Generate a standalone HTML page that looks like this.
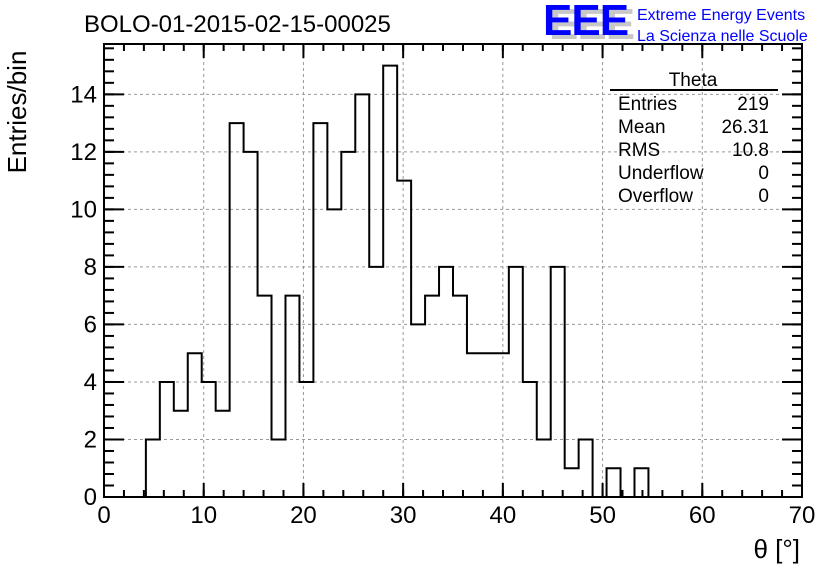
<!DOCTYPE html>
<html><head><meta charset="utf-8"><style>
body{margin:0;background:#fff;}
svg{display:block;font-family:"Liberation Sans",sans-serif;}
</style></head><body>
<svg id="c" width="836" height="572">
<rect width="836" height="572" fill="#fff"/>
<text x="84" y="32" font-size="24">BOLO-01-2015-02-15-00025</text>
<g>
<text x="549" y="39" font-size="44" font-weight="bold" fill="#c8c8c8" letter-spacing="-1">EEE</text>
<text x="543" y="35" font-size="44" font-weight="bold" fill="#0000ff" letter-spacing="-1">EEE</text>
<text x="637" y="20" font-size="16" fill="#0000ff">Extreme Energy Events</text>
<text x="637" y="41" font-size="16" fill="#0000ff">La Scienza nelle Scuole</text>
</g>
<g id="grid"></g><g id="axes"></g><path id="hist" fill="none" stroke="#000" stroke-width="2"/>
<rect x="104" y="44" width="698" height="453" fill="none" stroke="#000" stroke-width="2"/>
<text transform="translate(26,112) rotate(-90)" font-size="26" text-anchor="middle">Entries/bin</text>
<text x="800" y="558" font-size="26" text-anchor="end">θ [°]</text>
<g font-size="19">
<text x="693" y="86" text-anchor="middle">Theta</text>
<line x1="610" y1="90" x2="778" y2="90" stroke="#000" stroke-width="2"/>
<text x="618" y="110">Entries</text><text x="769" y="110" text-anchor="end">219</text>
<text x="618" y="133">Mean</text><text x="769" y="133" text-anchor="end">26.31</text>
<text x="618" y="156">RMS</text><text x="769" y="156" text-anchor="end">10.8</text>
<text x="618" y="179">Underflow</text><text x="769" y="179" text-anchor="end">0</text>
<text x="618" y="202">Overflow</text><text x="769" y="202" text-anchor="end">0</text>
</g>
</svg>
<script>
const binEdges0=0, binWidth=1.4;
const counts=[0,0,0,2,4,3,5,4,3,13,12,7,2,7,4,13,10,12,14,8,15,11,6,7,8,7,5,5,5,8,4,2,8,1,2,0,1,0,1,0,0,0,0,0,0,0,0,0,0,0];
const xTicks=[0,10,20,30,40,50,60,70];
const yTicks=[0,2,4,6,8,10,12,14];
const X0=104,X1=802,Y0=497,Y1=44,xmax=70,ymax=15.75;
const sx=v=>X0+(X1-X0)*v/xmax, sy=v=>Y0-(Y0-Y1)*v/ymax;
const NS="http://www.w3.org/2000/svg";
const grid=document.getElementById('grid'), axes=document.getElementById('axes');
function mk(tag,attrs,parent){const e=document.createElementNS(NS,tag);for(const k in attrs)e.setAttribute(k,attrs[k]);parent.appendChild(e);return e;}
xTicks.forEach(t=>{
 const x=sx(t);
 if(t>0&&t<xmax){const g=mk('line',{x1:x,x2:x,y1:Y1,y2:Y0,stroke:'#999','stroke-dasharray':'3,3'},grid);
 
 }
 mk('line',{x1:x,x2:x,y1:Y0,y2:Y0-14,stroke:'#000','stroke-width':2},axes);
 mk('line',{x1:x,x2:x,y1:Y1,y2:Y1+14,stroke:'#000','stroke-width':2},axes);
 const l=mk('text',{x:x,y:523,'font-size':24,'text-anchor':'middle'},axes);l.textContent=t;
 
 
});
for(let v=0;v<=xmax;v+=2){const x=sx(v);mk('line',{x1:x,x2:x,y1:Y0,y2:Y0-7,stroke:'#000','stroke-width':2},axes);mk('line',{x1:x,x2:x,y1:Y1,y2:Y1+7,stroke:'#000','stroke-width':2},axes);}
yTicks.forEach(t=>{
 const y=sy(t);
 if(t>0){const g=mk('line',{x1:X0,x2:X1,y1:y,y2:y,stroke:'#999','stroke-dasharray':'3,3'},grid);
 
 }
 mk('line',{x1:X0,x2:X0+20,y1:y,y2:y,stroke:'#000','stroke-width':2},axes);
 mk('line',{x1:X1,x2:X1-20,y1:y,y2:y,stroke:'#000','stroke-width':2},axes);
 const l=mk('text',{x:97,y:y+8,'font-size':24,'text-anchor':'end'},axes);l.textContent=t;
 
 
});
for(let v=0;v<=ymax;v+=0.4){const y=sy(v);mk('line',{x1:X0,x2:X0+10,y1:y,y2:y,stroke:'#000','stroke-width':2},axes);mk('line',{x1:X1,x2:X1-10,y1:y,y2:y,stroke:'#000','stroke-width':2},axes);}
let d='M'+sx(0)+','+sy(0);
counts.forEach((c,i)=>{d+=' L'+sx(binEdges0+i*binWidth)+','+sy(c)+' L'+sx(binEdges0+(i+1)*binWidth)+','+sy(c);});
document.getElementById('hist').setAttribute('d',d);
</script>
</body></html>
